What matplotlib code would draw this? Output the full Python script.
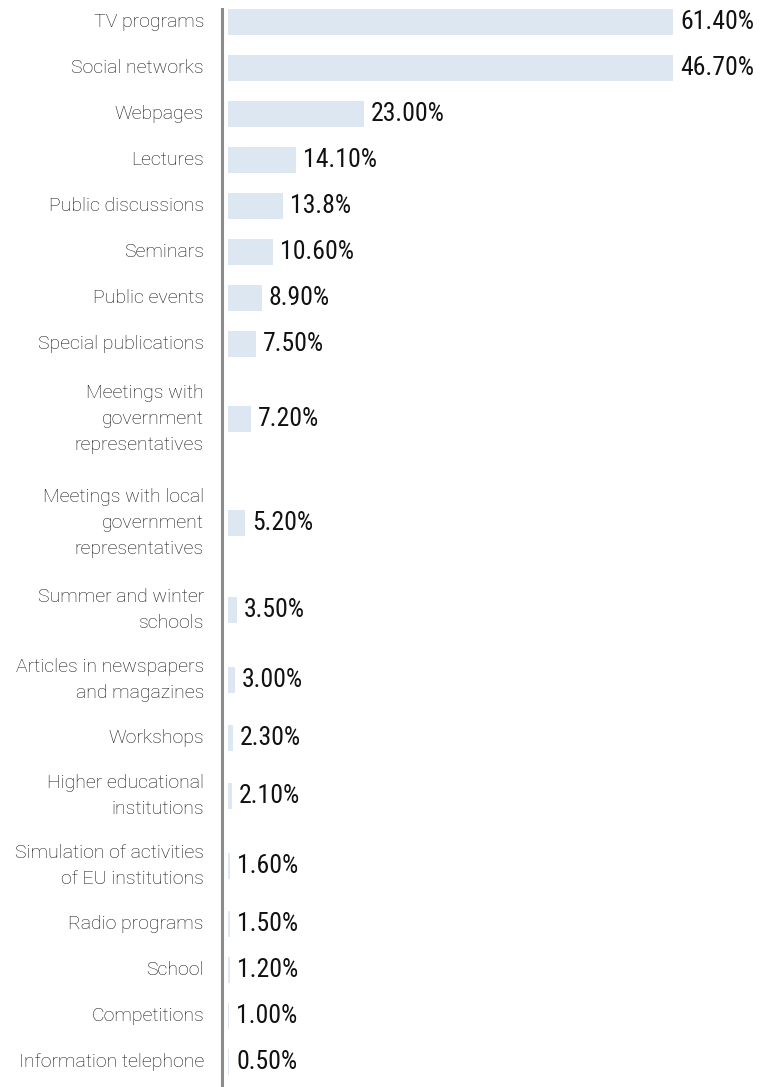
import matplotlib
matplotlib.use("Agg")
import matplotlib.pyplot as plt
import matplotlib.font_manager as fm

categories = [
    "TV programs", "Social networks", "Webpages", "Lectures",
    "Public discussions", "Seminars", "Public events", "Special publications",
    "Meetings with\ngovernment\nrepresentatives",
    "Meetings with local\ngovernment\nrepresentatives",
    "Summer and winter\nschools",
    "Articles in newspapers\nand magazines",
    "Workshops",
    "Higher educational\ninstitutions",
    "Simulation of activities\nof EU institutions",
    "Radio programs", "School", "Competitions", "Information telephone",
]
# bar lengths as drawn in the reference (arbitrary display units)
bar_lengths = [445, 445, 136, 68, 55, 45, 34, 28, 23, 17, 8.7, 7, 5, 4, 2, 2, 1.7, 1.3, 1]
value_labels = ["61.40%", "46.70%", "23.00%", "14.10%", "13.8%", "10.60%", "8.90%",
                "7.50%", "7.20%", "5.20%", "3.50%", "3.00%", "2.30%", "2.10%",
                "1.60%", "1.50%", "1.20%", "1.00%", "0.50%"]


def find_condensed():
    wanted = ["Roboto Condensed", "Liberation Sans Narrow", "Noto Sans Condensed",
              "Noto Sans", "DejaVu Sans Condensed", "DejaVu Sans", "Open Sans Condensed",
              "Open Sans"]
    for name in wanted:
        for f in fm.fontManager.ttflist:
            fn = f.fname.lower()
            if f.name != name:
                continue
            if "italic" in fn or "oblique" in fn or "bold" in fn or "light" in fn \
                    or "semi" in fn or "extra" in fn or "black" in fn or "thin" in fn \
                    or "medium" in fn:
                continue
            if ("condensed" in fn or "narrow" in fn or
                    str(f.stretch) in ("condensed", "semi-condensed")) and \
                    "extracondensed" not in fn:
                return fm.FontProperties(fname=f.fname)
    return None


cond = find_condensed()
if cond is not None:
    val_font = dict(fontproperties=cond, fontsize=18.5)
else:
    val_font = dict(family=["DejaVu Sans"], fontsize=15)

W, H, DPI = 768, 1087, 100
X0 = 228  # pixel where bars start

# row heights per number of label lines (layout)
row_h = {1: 46, 2: 70, 3: 104}
lines = [c.count("\n") + 1 for c in categories]
ypos = [22.0]
for i in range(1, len(categories)):
    ypos.append(ypos[-1] + (row_h[lines[i - 1]] + row_h[lines[i]]) / 2)

fig = plt.figure(figsize=(W / DPI, H / DPI), dpi=DPI)
ax = fig.add_axes([X0 / W, 0, 1 - X0 / W, 1])
ax.set_xlim(0, W - X0)
ax.set_ylim(H, 0)

bar_h = 26
ax.barh(ypos, bar_lengths, height=bar_h, color="#dde7f1", zorder=2)

for y, v, lab, cat in zip(ypos, bar_lengths, value_labels, categories):
    ax.text(v + 7, y, lab, ha="left", va="center", color="#111111", **val_font)
    ax.text(-24, y, cat, ha="right", va="center", fontsize=14,
            family=["Roboto", "DejaVu Sans"], fontweight="light",
            color="#141414", linespacing=1.58)

for s in ["top", "right", "bottom"]:
    ax.spines[s].set_visible(False)
ax.spines["left"].set_position(("outward", 4))
ax.spines["left"].set_color("#8c8c8c")
ax.spines["left"].set_linewidth(2.2)
ax.spines["left"].set_bounds(ypos[0] - bar_h / 2, H)
ax.set_xticks([])
ax.set_yticks([])
ax.patch.set_alpha(0)

fig.savefig("out.png", dpi=DPI)
